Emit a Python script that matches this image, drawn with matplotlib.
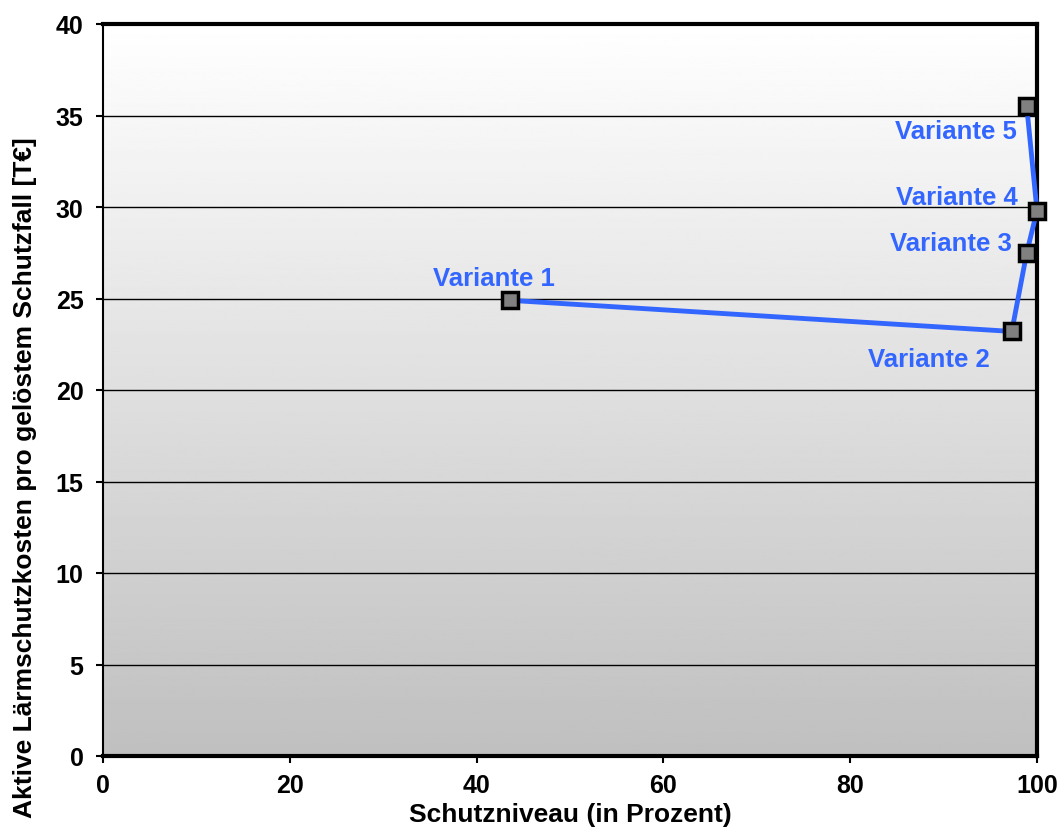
import numpy as np
import matplotlib
matplotlib.use('Agg')
import matplotlib.pyplot as plt

# Daten
varianten = ['Variante 1', 'Variante 2', 'Variante 3', 'Variante 4', 'Variante 5']
schutzniveau = [43.6, 97.3, 98.9, 100.0, 98.9]
kosten = [24.9, 23.2, 27.5, 29.8, 35.5]
x_ticks = [0, 20, 40, 60, 80, 100]
y_ticks = [0, 5, 10, 15, 20, 25, 30, 35, 40]

plt.rcParams['font.family'] = ['Liberation Sans', 'DejaVu Sans']
blau = '#3366ff'

fig = plt.figure(figsize=(10.61, 8.37), dpi=100)
ax = fig.add_axes([103 / 1061, 80 / 837, 934 / 1061, 732 / 837])

# Hintergrund-Verlauf weiss -> grau
grad = np.linspace(1.0, 0.75, 256).reshape(-1, 1)
ax.imshow(grad, extent=[0, 100, 0, 40], aspect='auto', cmap='gray',
          vmin=0, vmax=1, zorder=0, origin='upper')

ax.set_xlim(0, 100)
ax.set_ylim(0, 40)
ax.set_xticks(x_ticks)
ax.set_yticks(y_ticks)
for y in y_ticks[1:]:
    ax.axhline(y, color='black', lw=1.0, zorder=1)

ax.plot(schutzniveau, kosten, color=blau, lw=3.5, zorder=3, clip_on=False)
ax.plot(schutzniveau, kosten, ls='none', marker='s', markersize=12,
        markerfacecolor='#808080', markeredgecolor='black', markeredgewidth=2.5,
        zorder=4, clip_on=False)

# Beschriftungen der Varianten (rechter Rand relativ zum Punkt)
offsets = [(45, 22), (-22, -28), (-15, 10), (-19, 14), (-10, -25)]
for name, x, y, (dx, dy) in zip(varianten, schutzniveau, kosten, offsets):
    ax.annotate(name, (x, y), xytext=(dx, dy), textcoords='offset pixels',
                color=blau, fontsize=18.5, fontweight='bold', ha='right', va='center',
                zorder=5)

for side in ['top', 'right', 'bottom']:
    ax.spines[side].set_linewidth(3)
ax.spines['left'].set_linewidth(1.5)
ax.tick_params(axis='both', direction='out', length=5, width=1.5,
               labelsize=18)
ax.tick_params(axis='x', pad=7)
ax.tick_params(axis='y', pad=9)
for lbl in ax.get_xticklabels() + ax.get_yticklabels():
    lbl.set_fontweight('bold')

ax.set_xlabel('Schutzniveau (in Prozent)', fontsize=19, fontweight='bold', labelpad=4)
ax.set_ylabel('Aktive Lärmschutzkosten pro gelöstem Schutzfall [T€]',
              fontsize=19, fontweight='bold')
ax.yaxis.label.set_va('center')
ax.yaxis.set_label_coords(-0.084, 0.382)

fig.savefig('out.png', dpi=100)
